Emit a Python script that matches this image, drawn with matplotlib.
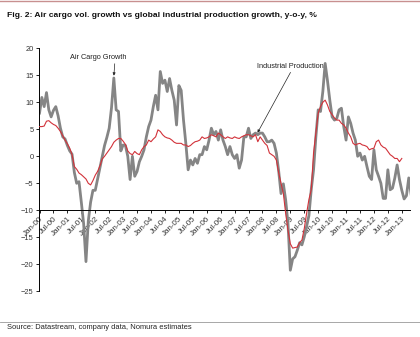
import matplotlib
matplotlib.use("Agg")
import matplotlib.pyplot as plt
from matplotlib.lines import Line2D

plt.rcParams["font.family"] = ["Liberation Sans", "DejaVu Sans"]

# monthly, Jan-00 .. Mar-13
air_cargo = [
    8.0, 10.9, 9.2, 11.8, 8.6, 7.3, 8.5, 9.2, 7.5, 5.2, 3.6, 3.2,
    2.0, 1.0, 0.4, -3.0, -5.0, -4.7, -8.5, -12.5, -19.5, -12.0, -8.5, -6.3,
    -6.3, -4.2, -2.0, 0.0, 2.0, 3.5, 5.2, 9.0, 14.5, 8.6, 8.3, 1.0,
    2.1, 2.0, 0.0, -4.3, 0.0, -3.7, -2.8, -1.0, 0.0, 1.2, 3.6, 5.5,
    6.7, 9.2, 11.3, 8.6, 15.7, 13.5, 14.1, 12.0, 14.4, 12.2, 10.4, 5.8,
    13.1, 12.2, 6.7, 2.4, -2.5, -0.7, -1.6, -0.4, -1.3, 0.3, 0.3, 1.8,
    1.2, 3.0, 5.2, 4.0, 4.6, 3.0, 4.9, 3.0, 1.8, 0.3, 1.8, 0.3,
    -0.4, 0.3, -2.2, -0.7, 3.6, 3.6, 5.2, 3.3, 4.0, 4.3, 4.0, 4.3,
    4.3, 3.6, 2.7, 2.7, 3.0, 2.4, 0.6, -2.8, -6.9, -5.1, -8.1, -12.5,
    -21.1, -19.0, -18.6, -17.4, -16.0, -16.4, -14.9, -13.0, -11.0, -6.2, -2.5, 3.6,
    8.6, 8.3, 12.0, 17.2, 14.0, 10.4, 7.3, 6.7, 7.0, 8.6, 8.9, 5.5,
    3.0, 7.3, 6.1, 4.3, 3.0, 0.0, 0.6, -0.7, 0.0, -1.9, -3.7, -4.3,
    1.2, -2.5, -3.7, -5.0, -7.8, -7.8, -2.5, -6.2, -5.9, -4.0, -1.6, -4.3,
    -6.3, -7.9, -7.3, -4.0, -7.0,
]

industrial = [
    5.5, 5.5, 5.6, 6.5, 6.6, 6.2, 5.9, 5.7, 5.2, 4.6, 3.8, 3.0,
    2.3, 1.5, 0.3, -1.9, -2.4, -3.1, -3.4, -3.8, -4.2, -5.0, -5.3, -4.5,
    -3.5, -2.8, -1.8, -0.5, 0.0, 0.6, 1.2, 1.8, 2.6, 3.0, 3.3, 3.3,
    2.8, 2.2, 1.0, 0.5, 0.3, 0.9, 0.5, 0.3, 1.2, 1.8, 2.1, 3.0,
    2.7, 3.2, 3.6, 4.9, 4.6, 4.0, 3.6, 3.4, 3.3, 3.0, 2.6, 2.4,
    2.4, 2.4, 2.1, 2.1, 1.8, 2.0, 2.4, 2.7, 2.8, 3.0, 3.6, 3.3,
    3.4, 3.6, 4.0, 3.8, 3.6, 4.3, 4.0, 3.6, 3.3, 3.6, 3.4, 3.3,
    3.6, 3.4, 3.3, 3.6, 3.8, 4.0, 4.0, 3.8, 3.6, 4.0, 2.7, 3.6,
    3.0, 2.4, 2.0, 0.6, 0.3, 0.0, -0.7, -3.1, -5.0, -6.9, -10.6, -13.7,
    -16.2, -17.0, -16.9, -16.8, -16.0, -15.5, -13.4, -10.6, -8.0, -6.2, 0.6, 4.3,
    8.0, 9.2, 10.0, 10.4, 9.5, 8.3, 7.7, 7.1, 6.7, 6.7, 6.1, 5.8,
    5.2, 4.3, 3.6, 2.4, 2.1, 2.3, 2.4, 2.1, 2.0, 1.8, 1.2, 1.4,
    1.5, 2.7, 3.0, 2.1, 1.7, 1.5, 0.9, 0.3, 0.0, -0.4, -0.4, -1.0,
    -0.4,
]

tick_labels = [
    "Jan-00", "Jul-00", "Jan-01", "Jul-01", "Jan-02", "Jul-02", "Jan-03",
    "Jul-03", "Jan-04", "Jul-04", "Jan-05", "Jul-05", "Jan-06", "Jul-06",
    "Jan-07", "Jul-07", "Jan-08", "Jul-08", "Jan-09", "Jul-09", "Jan-10",
    "Jul-10", "Jan-11", "Jul-11", "Jan-12", "Jul-12", "Jan-13",
]
y_ticks = [-25, -20, -15, -10, -5, 0, 5, 10, 15, 20]

fig = plt.figure(figsize=(4.2, 3.37), dpi=100)
ax = fig.add_axes([0.093, 0.1356, 0.883, 0.7211])

# axis position first - moving the spine resets the ticks
for s in ["top", "right"]:
    ax.spines[s].set_visible(False)
ax.spines["bottom"].set_position(("data", -10))
ax.spines["bottom"].set_linewidth(0.7)
ax.spines["left"].set_linewidth(0.7)

ax.plot(range(len(air_cargo)), air_cargo, color="#858585", lw=2.0,
        solid_joinstyle="round", zorder=2)
ax.plot(range(len(industrial)), industrial, color="#d2323a", lw=0.8, zorder=3)

ax.set_xlim(-0.2, 159.5)
ax.set_ylim(-25, 20)
ax.set_yticks(y_ticks)
ax.set_xticks([6 * i for i in range(len(tick_labels))])
ax.set_xticklabels(tick_labels, rotation=45, ha="right",
                   rotation_mode="anchor", fontsize=5.8, color="#333333")
ax.tick_params(axis="y", labelsize=5.4, labelcolor="#333333",
               length=2, width=0.6, pad=2)
ax.tick_params(axis="x", length=2, width=0.6, pad=1.5, direction="out")

ax.annotate("Air Cargo Growth", xy=(32, 14.8), xytext=(13, 18.3),
            fontsize=5.3, color="#222222", ha="left", va="center",
            arrowprops=dict(arrowstyle="-|>", lw=0.5, color="#222222",
                            mutation_scale=4, shrinkA=0, shrinkB=0.5,
                            relpos=(0.8, 0.0)),
            annotation_clip=False)
ax.annotate("Industrial Production", xy=(93.3, 3.9), xytext=(93.5, 16.7),
            fontsize=5.3, color="#222222", ha="left", va="center",
            arrowprops=dict(arrowstyle="-|>", lw=0.5, color="#222222",
                            mutation_scale=4, shrinkA=0,
                            relpos=(0.53, 0.0)),
            annotation_clip=False)

fig.text(0.017, 0.953, "Fig. 2: Air cargo vol. growth vs global industrial "
         "production growth, y-o-y, %", fontsize=6.1, fontweight="bold",
         color="#111111", ha="left", va="center")
fig.add_artist(Line2D([0.0, 1.0], [0.997, 0.997], color="#c89090", lw=1.0,
                      transform=fig.transFigure))
fig.add_artist(Line2D([0.0, 1.0], [0.045, 0.045], color="#999999", lw=0.6,
                      transform=fig.transFigure))
fig.text(0.017, 0.027, "Source: Datastream, company data, Nomura estimates",
         fontsize=5.4, color="#222222", ha="left", va="center")

fig.savefig("out.png", dpi=100)
